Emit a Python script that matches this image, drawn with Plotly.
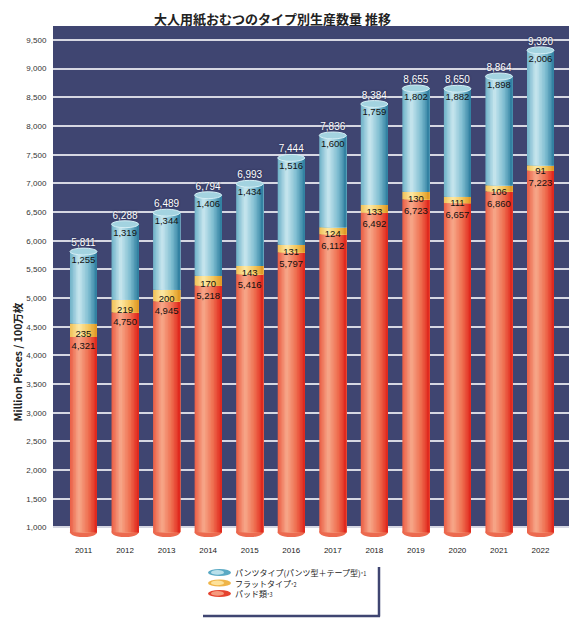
import plotly.graph_objects as go

# ---------------- data ----------------
years = [2011, 2012, 2013, 2014, 2015, 2016, 2017, 2018, 2019, 2020, 2021, 2022]
pad = [4321, 4750, 4945, 5218, 5416, 5797, 6112, 6492, 6723, 6657, 6860, 7223]      # パッド類
flat = [235, 219, 200, 170, 143, 131, 124, 133, 130, 111, 106, 91]                  # フラットタイプ
pants = [1255, 1319, 1344, 1406, 1434, 1516, 1600, 1759, 1802, 1882, 1898, 2006]    # パンツタイプ
totals = [5811, 6288, 6489, 6794, 6993, 7444, 7836, 8384, 8655, 8650, 8864, 9320]

series_names = ["パンツタイプ(パンツ型＋テープ型)", "フラットタイプ", "パッド類"]
series_notes = ["*1", "*2", "*3"]
title_text = "大人用紙おむつのタイプ別生産数量 推移"
ytitle = "Million Pieces / 100万枚"

# ---------------- style ----------------
FONT = "Liberation Sans, Arial, Noto Sans CJK JP, sans-serif"
JFONT = "Noto Sans CJK JP, Liberation Sans, sans-serif"
NAVY = "#3f4571"
W = 0.65          # bar width in category units
N = 18            # strips for cylinder gradient
ELL = 60          # half-height of cap ellipses (data units)
BOT = 915         # visual bottom of the cylinders
YR = [834, 9744]
XR = [years[0] - 0.734, years[-1] + 0.686]
UPP = (YR[1] - YR[0]) / 511.0   # data units per pixel

grad = {
    "blue": [(0, "#6cb0c7"), (0.33, "#c9e7ef"), (0.68, "#80bed1"), (1, "#2c7c9e")],
    "yellow": [(0, "#f0c055"), (0.33, "#fde9a6"), (0.68, "#f4c75e"), (1, "#df9722")],
    "red": [(0, "#ea5c43"), (0.33, "#f7a98b"), (0.68, "#ef6f50"), (1, "#df231a")],
}


def hex2rgb(h):
    h = h.lstrip("#")
    return [int(h[i:i + 2], 16) for i in (0, 2, 4)]


def color_at(stops, t):
    for (t0, c0), (t1, c1) in zip(stops[:-1], stops[1:]):
        if t0 <= t <= t1:
            f = (t - t0) / (t1 - t0)
            a, b = hex2rgb(c0), hex2rgb(c1)
            r = [round(a[k] + (b[k] - a[k]) * f) for k in range(3)]
            return "rgb(%d,%d,%d)" % tuple(r)
    return stops[-1][1]


fig = go.Figure()

red_len = [p - BOT for p in pad]
flat_base = pad
pants_base = [p + f for p, f in zip(pad, flat)]

segments = [
    ("red", red_len, [BOT] * len(years)),
    ("yellow", flat, flat_base),
    ("blue", pants, pants_base),
]

for key, vals, base in segments:
    for i in range(N):
        t = (i + 0.5) / N
        fig.add_trace(go.Bar(
            x=years, y=vals, base=base,
            offset=-W / 2 + i * W / N, width=W - i * W / N,
            marker=dict(color=color_at(grad[key], t), line=dict(width=0)),
            showlegend=False, hoverinfo="skip",
        ))

fmt = lambda v: f"{v:,}"
flat_lab_y = [p + f / 2 - 4 * UPP for p, f in zip(pad, flat)]
pad_lab_y = [y - 12 * UPP for y in flat_lab_y]

# total labels
fig.add_trace(go.Scatter(
    x=years, y=[t + 8 * UPP for t in totals], mode="text", text=[fmt(v) for v in totals],
    textposition="middle center",
    textfont=dict(family=FONT, size=10, color="white", shadow="0px 0px 2px #1a1f40"),
    showlegend=False, hoverinfo="skip", cliponaxis=False,
))
# pants labels
fig.add_trace(go.Scatter(
    x=years, y=[t - 9 * UPP for t in totals], mode="text", text=[fmt(v) for v in pants],
    textposition="middle center", textfont=dict(family=FONT, size=9.5, color="#111"),
    showlegend=False, hoverinfo="skip",
))
# flat labels
fig.add_trace(go.Scatter(
    x=years, y=flat_lab_y, mode="text", text=[fmt(v) for v in flat],
    textposition="middle center", textfont=dict(family=FONT, size=9.5, color="#111"),
    showlegend=False, hoverinfo="skip",
))
# pad labels
fig.add_trace(go.Scatter(
    x=years, y=pad_lab_y, mode="text", text=[fmt(v) for v in pad],
    textposition="middle center", textfont=dict(family=FONT, size=9.5, color="#111"),
    showlegend=False, hoverinfo="skip",
))

shapes = []
# navy plot background from 1,000 upward
shapes.append(dict(type="rect", xref="paper", yref="y", x0=0, x1=1, y0=1000, y1=YR[1],
                   fillcolor=NAVY, line=dict(width=0), layer="below"))
# bottom rounded ends (under the bars)
for yv in years:
    shapes.append(dict(type="circle", xref="x", yref="y", x0=yv - W / 2, x1=yv + W / 2,
                       y0=BOT - 1.4 * ELL, y1=BOT + 1.4 * ELL,
                       fillcolor="#ec6a4f", line=dict(width=0), layer="below"))
# top caps
for yv, tv in zip(years, totals):
    shapes.append(dict(type="circle", xref="x", yref="y", x0=yv - W / 2, x1=yv + W / 2,
                       y0=tv - ELL, y1=tv + ELL,
                       fillcolor="#a3d3e0", line=dict(width=1, color="#d4eef5"), layer="above"))


# legend (manual) -- page pixel -> paper coords (plot area 53..569 x 26..537 on the page)
def px(xp):
    return (xp - 53) / 516


def py(yp):
    return (537 - yp) / 511


leg_rows = [572.5, 583, 593.5]
leg_cols = [("#5aa9c4", "#b9e0ea"), ("#efb548", "#fde29a"), ("#e5432f", "#f59a7e")]
annotations = []
for name, note, yp, (c1, c2) in zip(series_names, series_notes, leg_rows, leg_cols):
    shapes.append(dict(type="circle", xref="paper", yref="paper", x0=px(208), x1=px(231),
                       y0=py(yp + 3.6), y1=py(yp - 3.6), fillcolor=c1, line=dict(width=0)))
    shapes.append(dict(type="circle", xref="paper", yref="paper", x0=px(211), x1=px(224),
                       y0=py(yp + 2.2), y1=py(yp - 2.4), fillcolor=c2, line=dict(width=0)))
    annotations.append(dict(xref="paper", yref="paper", x=px(234), y=py(yp),
                            text=name + "<span style='font-size:5.5px'>" + note + "</span>",
                            showarrow=False, xanchor="left", yanchor="middle", borderpad=0,
                            font=dict(family=JFONT, size=8, color="#222")))
shapes.append(dict(type="line", xref="paper", yref="paper", x0=px(379), x1=px(379),
                   y0=py(567), y1=py(616.5), line=dict(color=NAVY, width=2.5)))
shapes.append(dict(type="line", xref="paper", yref="paper", x0=px(203), x1=px(380),
                   y0=py(616), y1=py(616), line=dict(color=NAVY, width=2.5)))

annotations.append(dict(xref="paper", yref="paper", x=px(272), y=py(8), text="<b>" + title_text + "</b>",
                        showarrow=False, xanchor="center", yanchor="top", borderpad=0,
                        font=dict(family=JFONT, size=13, color="#222")))
annotations.append(dict(xref="paper", yref="paper", x=px(8), y=py(362), text="<b>" + ytitle + "</b>",
                        textangle=-90, showarrow=False, xanchor="left", yanchor="middle", borderpad=0,
                        font=dict(family=JFONT, size=10.5, color="#222")))

# the page body has an 8px margin, so the figure is 8px smaller and margins shifted
fig.update_layout(
    width=569, height=615,
    margin=dict(l=45, r=8, t=18, b=86),
    paper_bgcolor="white", plot_bgcolor="white",
    barmode="overlay", showlegend=False,
    shapes=shapes, annotations=annotations,
    xaxis=dict(range=XR, tickmode="array", tickvals=years, ticktext=[str(y) for y in years],
               showgrid=False, zeroline=False, showline=False, ticks="outside", ticklen=5,
               tickcolor="rgba(0,0,0,0)", tickfont=dict(family=FONT, size=8, color="#222")),
    yaxis=dict(range=YR, tick0=1000, dtick=500, tickformat=",d", showgrid=True,
               gridcolor="#d6d7e2", gridwidth=1.5, zeroline=False, showline=False,
               ticks="outside", ticklen=4, tickcolor="rgba(0,0,0,0)",
               tickfont=dict(family=FONT, size=8, color="#333")),
)

fig.write_html("out.html")
